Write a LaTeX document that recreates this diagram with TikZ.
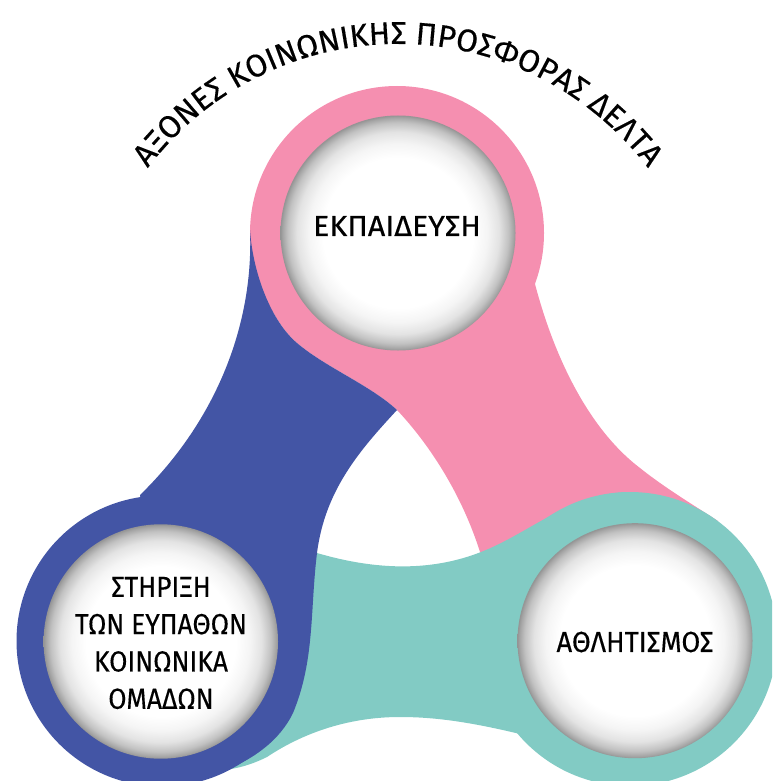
\documentclass[tikz,border=0pt]{standalone}
\usepackage{fontspec}
\setmainfont{Fira Sans}[FakeBold=0.35]
\newfontfamily\lblfont{Fira Sans}[FakeBold=0.35]
\usetikzlibrary{decorations.text}
\definecolor{pinkc}{HTML}{F58FB0}
\definecolor{bluec}{HTML}{4355A5}
\definecolor{tealc}{HTML}{82CBC4}
\pgfdeclareradialshading{dish}{\pgfpoint{0bp}{0bp}}{
  color(0bp)=(white); color(16bp)=(white); color(19bp)=(black!4);
  color(21.5bp)=(black!11); color(23.5bp)=(black!24); color(24.6bp)=(black!36); color(25bp)=(black!42); color(50bp)=(black!42)}
\newcommand{\sqz}[2]{\scalebox{#1}[1]{#2}}
\tikzset{
  lens/.style={shading=dish},
  label/.style={align=center,font=\lblfont\fontsize{29}{37.3}\selectfont,text=black,inner sep=0pt}
}
\begin{document}
\begin{tikzpicture}[x=1pt,y=-1pt]
\useasboundingbox (0,0) rectangle (772,781);
\clip (0,0) rectangle (772,781);
% pink
\fill[pinkc] (397,233) circle[radius=147pt];
\fill[pinkc] (250,230) .. controls (253,275) and (272,322) .. (297,343)
  .. controls (325,367) and (370,385) .. (397,410)
  .. controls (430,445) and (462,495) .. (480,552)
  -- (600,600) -- (718,521)
  .. controls (695,506) and (665,488) .. (640,468)
  .. controls (590,430) and (555,360) .. (535,284) -- cycle;
% teal
\fill[tealc] (630,639) circle[radius=147pt];
\fill[tealc] (317,553) .. controls (375,570) and (430,572) .. (481,552)
  .. controls (530,533) and (570,493) .. (630,492)
  -- (630,640) -- (520,734)
  .. controls (470,722) and (435,717) .. (400,717)
  .. controls (345,717) and (300,735) .. (267,757)
  .. controls (255,763) and (243,767) .. (231,769) -- (290,600) -- cycle;
% blue
\fill[bluec] (162,641) circle[radius=145.5pt];
\fill[bluec] (250,230) .. controls (253,275) and (272,322) .. (297,343)
  .. controls (325,367) and (370,385) .. (397,410)
  .. controls (360,450) and (325,490) .. (317,553)
  .. controls (310,610) and (315,660) .. (293,713)
  .. controls (280,740) and (255,757) .. (233,767)
  -- (162,641) -- (140,495)
  .. controls (212,425) and (254,330) .. (250,230) -- cycle;
% lenses
\shade[lens] (398,233) circle[radius=117.5pt];
\shade[lens] (160.8,641.5) circle[radius=117.2pt];
\shade[lens] (635,640.7) circle[radius=117.5pt];
% labels
\node[label] (edu) at (397,226) {\sqz{1.05}{ΕΚΠΑΙΔΕΥΣΗ}};
\node[label] (sup) at (161,643) {\sqz{.91}{ΣΤΗΡΙΞΗ}\\\sqz{.91}{ΤΩΝ ΕΥΠΑΘΩΝ}\\\sqz{.91}{ΚΟΙΝΩΝΙΚΑ}\\\sqz{.91}{ΟΜΑΔΩΝ}};
\node[label] (spo) at (635,642) {\sqz{.94}{ΑΘΛΗΤΙΣΜΟΣ}};
% title
\coordinate (arcstart) at (126,201);
\path[postaction={decorate},decoration={text along path,text align=center,
  text={|\lblfont\fontsize{31.5}{36}\selectfont|ΑΞΟΝΕΣ ΚΟΙΝΩΝΙΚΗΣ ΠΡΟΣΦΟΡΑΣ ΔΕΛΤΑ}}]
  (arcstart) arc[start angle=150,end angle=30,radius=314pt];
\end{tikzpicture}
\end{document}
